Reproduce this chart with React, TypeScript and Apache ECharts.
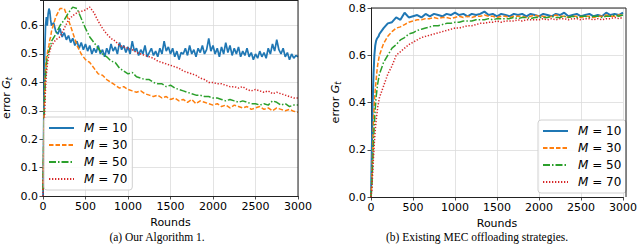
import React, { useEffect, useRef } from "react";
import * as echarts from "echarts";

// sampling rounds for the smoother curves
const ROUNDS = [
  0, 10, 20, 30, 40, 50, 60, 70, 80, 90, 100,
  150, 200, 250, 300, 350, 400, 450, 500, 550, 600,
  650, 700, 750, 800, 850, 900, 950, 1000, 1050, 1100,
  1150, 1200, 1250, 1300, 1350, 1400, 1450, 1500, 1550, 1600,
  1650, 1700, 1750, 1800, 1850, 1900, 1950, 2000, 2050, 2100,
  2150, 2200, 2250, 2300, 2350, 2400, 2450, 2500, 2550, 2600,
  2650, 2700, 2750, 2800, 2850, 2900, 2950, 3000,
];

// denser sampling rounds for the noisy M=10 curve of (a)
const ROUNDS_DENSE = [
  0, 10, 20, 30, 40, 50, 60, 70, 80, 90, 100,
  125, 150, 175, 200, 225, 250, 275, 300, 325, 350, 375, 400, 425, 450, 475, 500, 525, 550, 575, 600,
  625, 650, 675, 700, 725, 750, 775, 800, 825, 850, 875, 900, 925, 950, 975, 1000, 1025, 1050, 1075, 1100,
  1125, 1150, 1175, 1200, 1225, 1250, 1275, 1300, 1325, 1350, 1375, 1400, 1425, 1450, 1475, 1500, 1525, 1550, 1575, 1600,
  1625, 1650, 1675, 1700, 1725, 1750, 1775, 1800, 1825, 1850, 1875, 1900, 1925, 1950, 1975, 2000, 2025, 2050, 2075, 2100,
  2125, 2150, 2175, 2200, 2225, 2250, 2275, 2300, 2325, 2350, 2375, 2400, 2425, 2450, 2475, 2500, 2525, 2550, 2575, 2600,
  2625, 2650, 2675, 2700, 2725, 2750, 2775, 2800, 2825, 2850, 2875, 2900, 2925, 2950, 2975, 3000,
];

// (a) Our Algorithm 1.
const A_M10 = [
  0, 0.3, 0.5, 0.6, 0.63, 0.6, 0.64, 0.66, 0.65, 0.62, 0.6,
  0.61, 0.58, 0.57, 0.59, 0.56, 0.575, 0.55, 0.565, 0.54, 0.555, 0.53, 0.545, 0.52, 0.54, 0.515, 0.535, 0.51, 0.53, 0.5, 0.52,
  0.505, 0.53, 0.5, 0.515, 0.49, 0.52, 0.5, 0.535, 0.51, 0.525, 0.5, 0.54, 0.515, 0.53, 0.505, 0.525, 0.5, 0.545, 0.51, 0.52,
  0.495, 0.515, 0.5, 0.53, 0.49, 0.505, 0.52, 0.495, 0.51, 0.49, 0.52, 0.5, 0.545, 0.51, 0.525, 0.5, 0.52, 0.49, 0.51, 0.48,
  0.505, 0.5, 0.52, 0.495, 0.53, 0.5, 0.515, 0.49, 0.52, 0.505, 0.53, 0.5, 0.515, 0.555, 0.51, 0.53, 0.5, 0.52, 0.49, 0.525,
  0.5, 0.54, 0.505, 0.53, 0.495, 0.52, 0.5, 0.525, 0.49, 0.51, 0.495, 0.52, 0.49, 0.505, 0.48, 0.5, 0.485, 0.51, 0.49, 0.505,
  0.485, 0.52, 0.5, 0.535, 0.51, 0.55, 0.515, 0.5, 0.52, 0.49, 0.505, 0.48, 0.5, 0.485, 0.495, 0.49,
];
const A_M30 = [
  0.02, 0.25, 0.38, 0.45, 0.49, 0.5, 0.52, 0.53, 0.55, 0.56, 0.58,
  0.63, 0.66, 0.66, 0.62, 0.575, 0.53, 0.5, 0.48, 0.47, 0.45,
  0.43, 0.425, 0.41, 0.4, 0.39, 0.38, 0.385, 0.375, 0.37, 0.365,
  0.37, 0.36, 0.355, 0.35, 0.355, 0.345, 0.35, 0.34, 0.345, 0.335,
  0.34, 0.33, 0.34, 0.325, 0.335, 0.33, 0.325, 0.32, 0.325, 0.315,
  0.32, 0.31, 0.32, 0.315, 0.31, 0.315, 0.305, 0.31, 0.315, 0.305,
  0.31, 0.3, 0.31, 0.305, 0.3, 0.305, 0.298, 0.295,
];
const A_M50 = [
  0.02, 0.22, 0.35, 0.42, 0.46, 0.49, 0.5, 0.51, 0.52, 0.53, 0.545,
  0.57, 0.6, 0.62, 0.645, 0.665, 0.66, 0.625, 0.59, 0.56, 0.54,
  0.52, 0.5, 0.49, 0.475, 0.47, 0.45, 0.44, 0.43, 0.435, 0.42,
  0.415, 0.41, 0.41, 0.4, 0.395, 0.395, 0.385, 0.39, 0.38, 0.375,
  0.37, 0.365, 0.36, 0.355, 0.355, 0.35, 0.35, 0.345, 0.345, 0.34,
  0.335, 0.34, 0.335, 0.33, 0.335, 0.33, 0.325, 0.325, 0.32, 0.325,
  0.32, 0.335, 0.33, 0.32, 0.325, 0.315, 0.32, 0.32,
];
const A_M70 = [
  0, 0.15, 0.3, 0.38, 0.43, 0.46, 0.48, 0.5, 0.51, 0.52, 0.53,
  0.55, 0.56, 0.59, 0.62, 0.635, 0.645, 0.65, 0.655, 0.665, 0.645,
  0.615, 0.59, 0.57, 0.555, 0.545, 0.53, 0.525, 0.52, 0.515, 0.505,
  0.5, 0.495, 0.49, 0.485, 0.475, 0.47, 0.465, 0.46, 0.455, 0.45,
  0.44, 0.435, 0.43, 0.425, 0.415, 0.41, 0.4, 0.4, 0.395, 0.395,
  0.39, 0.385, 0.385, 0.38, 0.385, 0.375, 0.37, 0.375, 0.37, 0.365,
  0.37, 0.36, 0.365, 0.36, 0.355, 0.35, 0.345, 0.345,
];

// (b) Existing MEC offloading strategies.
const B_M10 = [
  0, 0.2, 0.4, 0.52, 0.6, 0.64, 0.66, 0.67, 0.675, 0.68, 0.69,
  0.715, 0.735, 0.74, 0.76, 0.75, 0.78, 0.76, 0.765, 0.77, 0.76,
  0.775, 0.765, 0.775, 0.77, 0.765, 0.775, 0.77, 0.78, 0.77, 0.775,
  0.765, 0.775, 0.77, 0.775, 0.785, 0.77, 0.775, 0.765, 0.775, 0.77,
  0.765, 0.775, 0.77, 0.775, 0.765, 0.775, 0.77, 0.765, 0.775, 0.77,
  0.765, 0.775, 0.77, 0.78, 0.765, 0.77, 0.775, 0.765, 0.77, 0.775,
  0.765, 0.77, 0.765, 0.78, 0.77, 0.775, 0.77, 0.78,
];
const B_M30 = [
  0, 0.08, 0.2, 0.33, 0.4, 0.45, 0.49, 0.53, 0.56, 0.58, 0.6,
  0.65, 0.68, 0.7, 0.715, 0.72, 0.73, 0.74, 0.745, 0.75, 0.75,
  0.755, 0.755, 0.76, 0.755, 0.76, 0.76, 0.755, 0.76, 0.765, 0.76,
  0.765, 0.76, 0.765, 0.765, 0.77, 0.765, 0.765, 0.76, 0.765, 0.765,
  0.76, 0.765, 0.765, 0.765, 0.76, 0.765, 0.77, 0.765, 0.765, 0.76,
  0.765, 0.77, 0.765, 0.765, 0.76, 0.765, 0.765, 0.76, 0.765, 0.765,
  0.76, 0.765, 0.765, 0.77, 0.765, 0.765, 0.77, 0.77,
];
const B_M50 = [
  0, 0.05, 0.14, 0.24, 0.31, 0.37, 0.42, 0.45, 0.48, 0.5, 0.52,
  0.57, 0.6, 0.63, 0.645, 0.665, 0.675, 0.69, 0.695, 0.705, 0.71,
  0.715, 0.72, 0.725, 0.725, 0.73, 0.735, 0.735, 0.74, 0.74, 0.745,
  0.745, 0.745, 0.75, 0.75, 0.75, 0.755, 0.75, 0.755, 0.755, 0.755,
  0.755, 0.76, 0.755, 0.76, 0.76, 0.755, 0.76, 0.76, 0.76, 0.76,
  0.765, 0.76, 0.76, 0.765, 0.76, 0.765, 0.76, 0.765, 0.765, 0.76,
  0.765, 0.765, 0.76, 0.765, 0.765, 0.77, 0.765, 0.77,
];
const B_M70 = [
  0, 0.03, 0.1, 0.17, 0.23, 0.28, 0.32, 0.35, 0.38, 0.4, 0.42,
  0.47, 0.52, 0.555, 0.6, 0.615, 0.63, 0.645, 0.655, 0.665, 0.675,
  0.68, 0.685, 0.69, 0.695, 0.7, 0.705, 0.71, 0.715, 0.715, 0.72,
  0.725, 0.725, 0.73, 0.735, 0.735, 0.74, 0.74, 0.745, 0.74, 0.745,
  0.745, 0.745, 0.75, 0.745, 0.75, 0.75, 0.75, 0.75, 0.755, 0.75,
  0.755, 0.75, 0.755, 0.755, 0.75, 0.755, 0.755, 0.75, 0.755, 0.755,
  0.75, 0.755, 0.75, 0.755, 0.755, 0.76, 0.755, 0.76,
];

const M_LABELS = ["10", "30", "50", "70"];
const X_NAME = "Rounds";
const Y_NAME = "error {i|G}{s|t}";
const CAPTION_A = "(a) Our Algorithm 1.";
const CAPTION_B = "(b) Existing MEC offloading strategies.";

const COLORS = ["#1f77b4", "#ff7f0e", "#2ca02c", "#d62728"];
const DASHES: any[] = ["solid", [4.5, 2], [7, 2, 1.5, 2], [1.3, 1.7]];
const WIDTHS = [1.7, 1.5, 1.5, 1.5];

const SANS = "DejaVu Sans";

export default function App() {
  const ref = useRef<HTMLDivElement>(null);
  useEffect(() => {
    if (!ref.current) return;
    const chart = echarts.init(ref.current, null, { renderer: "svg" });

    const mkX = (gi: number) => ({
      type: "value",
      gridIndex: gi,
      min: 0,
      max: 3000,
      interval: 500,
      name: X_NAME,
      nameLocation: "middle",
      nameGap: gi === 0 ? 19 : 18,
      nameTextStyle: { fontFamily: SANS, fontSize: 11, color: "#000" },
      axisLine: { show: true, lineStyle: { color: "#222", width: 1 } },
      axisTick: { show: true, length: 3.5, lineStyle: { color: "#222", width: 0.8 } },
      axisLabel: {
        fontFamily: SANS,
        fontSize: 11,
        color: "#000",
        margin: 5,
        formatter: (v: number) => String(v),
      },
      splitLine: { show: true, lineStyle: { color: "#dcdcdc", width: 0.8 } },
    });
    const mkY = (gi: number, max: number, interval: number) => ({
      type: "value",
      gridIndex: gi,
      min: 0,
      max,
      interval,
      name: Y_NAME,
      nameLocation: "middle",
      nameGap: gi === 0 ? 30 : 29,
      nameTextStyle: {
        fontFamily: SANS,
        fontSize: 11,
        color: "#000",
        rich: {
          i: { fontFamily: SANS, fontSize: 11, fontStyle: "italic", color: "#000" },
          s: { fontFamily: SANS, fontSize: 8, fontStyle: "italic", color: "#000", padding: [5, 0, 0, 0] },
        },
      },
      axisLine: { show: true, lineStyle: { color: "#222", width: 1 } },
      axisTick: { show: true, length: 3.5, lineStyle: { color: "#222", width: 0.8 } },
      axisLabel: {
        fontFamily: SANS,
        fontSize: 11,
        color: "#000",
        margin: 5,
        showMaxLabel: gi === 1,
        formatter: (v: number) => v.toFixed(1),
      },
      splitLine: { show: true, lineStyle: { color: "#dcdcdc", width: 0.8 } },
    });

    const aSeries = [A_M10, A_M30, A_M50, A_M70];
    const bSeries = [B_M10, B_M30, B_M50, B_M70];
    const series: any[] = [];
    aSeries.forEach((vals, k) => {
      const xs = k === 0 ? ROUNDS_DENSE : ROUNDS;
      series.push({
        type: "line",
        name: "a" + M_LABELS[k],
        xAxisIndex: 0,
        yAxisIndex: 0,
        data: xs.map((r, i) => [r, vals[i]]),
        showSymbol: false,
        symbol: "none",
        lineStyle: { color: COLORS[k], width: WIDTHS[k], type: DASHES[k] },
        itemStyle: { color: COLORS[k] },
      });
    });
    bSeries.forEach((vals, k) => {
      series.push({
        type: "line",
        name: "b" + M_LABELS[k],
        xAxisIndex: 1,
        yAxisIndex: 1,
        data: ROUNDS.map((r, i) => [r, vals[i]]),
        showSymbol: false,
        symbol: "none",
        lineStyle: { color: COLORS[k], width: k === 0 ? 2 : WIDTHS[k], type: DASHES[k] },
        itemStyle: { color: COLORS[k] },
      });
    });

    const legendBase = {
      orient: "vertical",
      itemWidth: 25,
      itemHeight: 10,
      itemGap: 3,
      padding: [4, 5, 4, 4],
      backgroundColor: "rgba(255,255,255,0.85)",
      borderColor: "#d0d0d0",
      borderWidth: 1,
      borderRadius: 3,
      itemStyle: { opacity: 0 },
      formatter: (name: string) => `{i|M} = ${name.slice(1)}`,
      textStyle: {
        fontFamily: SANS,
        fontSize: 12,
        color: "#000",
        lineHeight: 14,
        rich: {
          i: { fontFamily: SANS, fontSize: 12, fontStyle: "italic", color: "#000", padding: [0, 0, 0, 5] },
        },
      },
    };

    chart.setOption({
      animation: false,
      backgroundColor: "#fff",
      grid: [
        { left: 40, top: 0, width: 258, height: 196, show: false },
        { left: 371, top: 8, width: 255, height: 189, show: false },
      ],
      xAxis: [mkX(0), mkX(1)],
      yAxis: [mkY(0, 0.69, 0.1), mkY(1, 0.8, 0.2)],
      legend: [
        { ...legendBase, left: 44, top: 117, data: M_LABELS.map((m) => "a" + m) },
        { ...legendBase, left: 538, top: 120, data: M_LABELS.map((m) => "b" + m) },
      ],
      graphic: [
        // right and top frame lines of each panel (matplotlib spines)
        { type: "line", shape: { x1: 40, y1: 0.5, x2: 298, y2: 0.5 }, style: { stroke: "#222", lineWidth: 1 }, z: 10 },
        { type: "line", shape: { x1: 298, y1: 0, x2: 298, y2: 196 }, style: { stroke: "#222", lineWidth: 1 }, z: 10 },
        { type: "line", shape: { x1: 371, y1: 8, x2: 626, y2: 8 }, style: { stroke: "#222", lineWidth: 1 }, z: 10 },
        { type: "line", shape: { x1: 626, y1: 8, x2: 626, y2: 197 }, style: { stroke: "#222", lineWidth: 1 }, z: 10 },
        {
          type: "text",
          x: 157,
          y: 237,
          style: { text: CAPTION_A, fontFamily: "Liberation Serif", fontSize: 11.5, fill: "#000", align: "center", verticalAlign: "middle" },
        },
        {
          type: "text",
          x: 477,
          y: 237,
          style: { text: CAPTION_B, fontFamily: "Liberation Serif", fontSize: 11.5, fill: "#000", align: "center", verticalAlign: "middle" },
        },
      ],
      series,
    });
    return () => chart.dispose();
  }, []);
  return (
    <div
      ref={ref}
      style={{ position: "fixed", left: 0, top: 0, width: 640, height: 249, background: "#fff" }}
    />
  );
}
